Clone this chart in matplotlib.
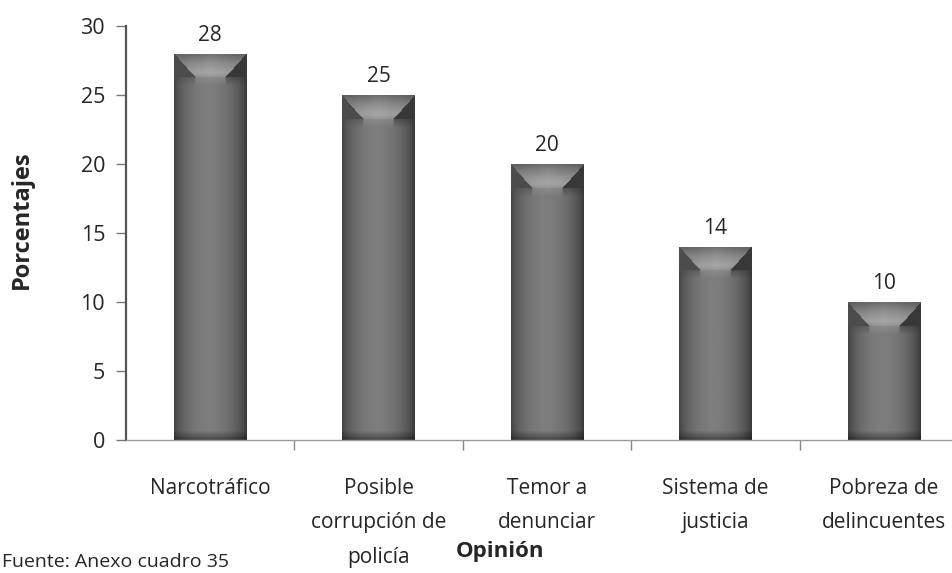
import numpy as np
import matplotlib
matplotlib.use("Agg")
import matplotlib.pyplot as plt
from matplotlib.patches import Rectangle

# Survey results: reasons for the problem, in percent
categorias = [
    "Narcotráfico",
    "Posible\ncorrupción de\npolicía",
    "Temor a\ndenunciar",
    "Sistema de\njusticia",
    "Pobreza de\ndelincuentes",
]
porcentajes = [28, 25, 20, 14, 10]
yticks = [0, 5, 10, 15, 20, 25, 30]

plt.rcParams["font.family"] = ["Open Sans", "DejaVu Sans"]

W, H, DPI = 953, 573, 100
fig = plt.figure(figsize=(W / DPI, H / DPI), dpi=DPI)
ax_left, ax_bottom, ax_w, ax_h = 126, 133, 842, 414
ax = fig.add_axes([ax_left / W, ax_bottom / H, ax_w / W, ax_h / H])

ax.set_xlim(-0.5, len(categorias) - 0.5)
ax.set_ylim(0, 30)

bar_w = 0.43
px_per_unit = ax_h / 30.0
bar_px = int(round(bar_w * ax_w / len(categorias)))
TXT = "#262626"


def bar_texture(h_px, w_px):
    """Grey shaded block with a bevelled top and darker borders."""
    u = (np.arange(w_px) + 0.5) / w_px
    prof = 0.24 + 0.27 * np.sin(np.pi * u) ** 0.6
    prof = prof - 0.04 * u  # right side a little darker
    img = np.tile(prof, (h_px, 1))
    # bottom rim
    nb = min(9, h_px // 4)
    for k in range(nb):
        img[h_px - 1 - k, :] *= 0.6 + 0.4 * (k / nb)
    # bevel at the top
    D = min(24, h_px // 3)
    for r in range(D):
        t = r / D
        lo = 0.5 - 0.5 * (1 - t) - 0.2 * t
        hi = 0.5 + 0.5 * (1 - t) + 0.2 * t
        inside = (u >= lo) & (u <= hi)
        left = u < lo
        right = u > hi
        light = 0.44 + 0.22 * np.sin(np.pi * 0.5 * t) - 0.08 * max(0, t - 0.8) / 0.2
        img[r, inside] = light - 0.15 * np.abs(u[inside] - 0.5)
        img[r, left] = 0.30
        img[r, right] = 0.22
    # soften the lower edge of the bevel into the body
    nbl = min(8, h_px - D - 1)
    for k in range(nbl):
        w = 0.5 * (1 - k / nbl)
        img[D + k, :] = (1 - w) * img[D + k, :] + w * img[D - 1, :]
    return np.clip(img, 0, 1)


for i, val in enumerate(porcentajes):
    x0, x1 = i - bar_w / 2, i + bar_w / 2
    h_px = max(int(round(val * px_per_unit)), 4)
    tex = bar_texture(h_px, bar_px)
    im = ax.imshow(tex, cmap="gray", vmin=0, vmax=1, extent=[x0, x1, 0, val],
                   aspect="auto", interpolation="bilinear", zorder=2)
    clip = Rectangle((x0, 0), bar_w, val, transform=ax.transData,
                     facecolor="none", edgecolor="none")
    ax.add_patch(clip)
    im.set_clip_path(clip)
    ax.annotate(f"{val}", xy=(i, val), xytext=(0, 13), textcoords="offset points",
                ha="center", va="center", fontsize=15, color=TXT)

# axes styling
for s in ("top", "right"):
    ax.spines[s].set_visible(False)
ax.spines["left"].set_color("#555555")
ax.spines["left"].set_linewidth(1.6)
ax.spines["bottom"].set_color("#9a9a9a")
ax.spines["bottom"].set_linewidth(1.0)
ax.spines["bottom"].set_linestyle((0, (2, 1)))

ax.set_yticks(yticks)
ax.set_yticklabels([str(t) for t in yticks])
ax.tick_params(axis="y", direction="out", length=7, width=1, color="#777777",
               labelsize=15.5, labelcolor=TXT, pad=8)

ax.set_xticks(range(len(categorias)))
ax.set_xticklabels(categorias, fontsize=15, color=TXT, linespacing=1.85)
ax.tick_params(axis="x", length=0, pad=27)
ax.set_xticks([i + 0.5 for i in range(len(categorias) - 1)], minor=True)
ax.tick_params(axis="x", which="minor", direction="out", length=7, width=1,
               color="#888888")

ax.set_facecolor("white")

fig.text(500 / W, 1 - 552 / H, "Opinión", ha="center", va="center",
         fontsize=16, fontweight="bold", color=TXT)
fig.text(22 / W, 1 - 220 / H, "Porcentajes", ha="center", va="center",
         rotation=90, fontsize=17, fontweight="bold", color=TXT)
fig.text(2 / W, 1 - 571 / H, "Fuente: Anexo cuadro 35", ha="left",
         va="bottom", fontsize=14, color=TXT)

fig.savefig("out.png", dpi=DPI, facecolor="white")
